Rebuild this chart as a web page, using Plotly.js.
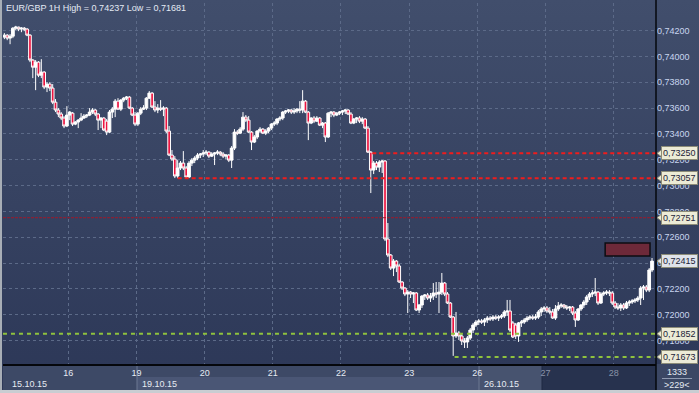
<!DOCTYPE html>
<html><head><meta charset="utf-8">
<script src="https://cdn.plot.ly/plotly-3.0.1.min.js"></script>
<style>
html,body{margin:0;padding:0;background:#2b3656;}
#chart{width:699px;height:393px;background:linear-gradient(to bottom,#414e6c 0%,#2c3757 100%);}
</style></head><body><div id="chart"></div>
<script>
// ---- data ----
const dayTickText = ['16','19','20','21','22','23','26','27','28'];
const dayBoundaries = [22.5,46.5,70.5,94.5,118.5,142.5,166.5,190.5,214.5];
const dateLabels = ['15.10.15','19.10.15','26.10.15'];
const dateLabelIdx = [1.8,47.8,168.0];

const open = [
0.74150,0.74165,0.74142,0.74157,0.74219,0.74227,0.74212,0.74219,0.74212,0.74165,
0.73972,0.73917,0.73956,0.73855,0.73879,0.73763,0.73786,0.73755,0.73646,0.73585,
0.73554,0.73523,0.73461,0.73546,0.73561,0.73476,0.73492,0.73507,0.73523,0.73538,
0.73546,0.73569,0.73585,0.73554,0.73507,0.73523,0.73499,0.73414,0.73569,0.73592,
0.73654,0.73592,0.73662,0.73677,0.73685,0.73600,0.73546,0.73476,0.73561,0.73592,
0.73600,0.73677,0.73716,0.73608,0.73585,0.73600,0.73592,0.73600,0.73422,0.73236,
0.73205,0.73074,0.73136,0.73174,0.73136,0.73066,0.73174,0.73197,0.73213,0.73236,
0.73244,0.73252,0.73259,0.73228,0.73244,0.73252,0.73259,0.73244,0.73228,0.73236,
0.73197,0.73290,0.73414,0.73406,0.73437,0.73530,0.73507,0.73414,0.73337,0.73376,
0.73422,0.73437,0.73406,0.73422,0.73445,0.73476,0.73484,0.73515,0.73523,0.73569,
0.73577,0.73585,0.73569,0.73577,0.73592,0.73585,0.73654,0.73569,0.73484,0.73523,
0.73499,0.73523,0.73468,0.73484,0.73376,0.73561,0.73569,0.73546,0.73561,0.73569,
0.73577,0.73585,0.73554,0.73484,0.73515,0.73523,0.73499,0.73515,0.73445,0.73259,
0.73120,0.73174,0.73143,0.73182,0.73190,0.72586,0.72462,0.72361,0.72415,0.72377,
0.72253,0.72206,0.72160,0.72175,0.72160,0.72168,0.72036,0.72075,0.72144,0.72152,
0.72129,0.72144,0.72168,0.72160,0.72175,0.72245,0.72160,0.72090,0.71982,0.71835,
0.71858,0.71835,0.71796,0.71789,0.71819,0.71881,0.71920,0.71943,0.71951,0.71943,
0.71959,0.71974,0.71967,0.71982,0.71974,0.71982,0.71990,0.72021,0.72028,0.71936,
0.71920,0.71835,0.71936,0.71943,0.71959,0.71974,0.71982,0.71974,0.71982,0.72021,
0.72044,0.72052,0.72028,0.72021,0.71974,0.72044,0.72067,0.72075,0.72059,0.72052,
0.72059,0.72013,0.71959,0.72044,0.72075,0.72098,0.72137,0.72160,0.72168,0.72175,
0.72090,0.72160,0.72168,0.72175,0.72168,0.72090,0.72059,0.72052,0.72075,0.72052,
0.72090,0.72098,0.72106,0.72114,0.72129,0.72206,0.72214,0.72191,0.72346];

const high = [
0.74181,0.74173,0.74173,0.74227,0.74237,0.74231,0.74227,0.74228,0.74219,0.74173,
0.73979,0.73972,0.73964,0.73979,0.73886,0.73801,0.73801,0.73786,0.73670,0.73600,
0.73569,0.73538,0.73615,0.73577,0.73569,0.73499,0.73515,0.73561,0.73554,0.73554,
0.73600,0.73600,0.73592,0.73561,0.73530,0.73530,0.73515,0.73585,0.73608,0.73670,
0.73677,0.73670,0.73685,0.73693,0.73693,0.73608,0.73569,0.73569,0.73608,0.73623,
0.73685,0.73732,0.73724,0.73654,0.73631,0.73662,0.73615,0.73608,0.73461,0.73275,
0.73228,0.73197,0.73190,0.73267,0.73151,0.73190,0.73213,0.73228,0.73252,0.73252,
0.73275,0.73275,0.73267,0.73259,0.73259,0.73275,0.73267,0.73259,0.73244,0.73244,
0.73306,0.73437,0.73430,0.73453,0.73569,0.73546,0.73538,0.73422,0.73391,0.73430,
0.73453,0.73445,0.73437,0.73453,0.73484,0.73499,0.73523,0.73538,0.73577,0.73585,
0.73592,0.73592,0.73600,0.73600,0.73654,0.73739,0.73662,0.73577,0.73530,0.73538,
0.73538,0.73530,0.73492,0.73492,0.73569,0.73577,0.73577,0.73569,0.73577,0.73585,
0.73592,0.73592,0.73569,0.73523,0.73530,0.73538,0.73530,0.73523,0.73461,0.73267,
0.73190,0.73190,0.73197,0.73197,0.73197,0.72710,0.72470,0.72431,0.72423,0.72392,
0.72261,0.72214,0.72191,0.72183,0.72175,0.72175,0.72083,0.72152,0.72160,0.72168,
0.72168,0.72245,0.72253,0.72253,0.72323,0.72253,0.72175,0.72098,0.71990,0.72021,
0.71874,0.71850,0.71819,0.71835,0.71897,0.71936,0.71959,0.71967,0.71967,0.71974,
0.71990,0.71990,0.71997,0.71997,0.71997,0.72005,0.72036,0.72114,0.72114,0.71951,
0.71936,0.71943,0.71959,0.71974,0.71990,0.71997,0.71997,0.72005,0.72036,0.72059,
0.72067,0.72067,0.72059,0.72044,0.72075,0.72098,0.72090,0.72083,0.72075,0.72067,
0.72067,0.72028,0.72052,0.72083,0.72114,0.72152,0.72175,0.72191,0.72284,0.72183,
0.72175,0.72183,0.72191,0.72191,0.72183,0.72106,0.72090,0.72090,0.72090,0.72106,
0.72114,0.72121,0.72129,0.72144,0.72222,0.72230,0.72230,0.72361,0.72439];

const low = [
0.74134,0.74126,0.74095,0.74142,0.74204,0.74196,0.74188,0.74196,0.74157,0.73956,
0.73832,0.73739,0.73840,0.73832,0.73747,0.73724,0.73732,0.73631,0.73569,0.73530,
0.73507,0.73445,0.73453,0.73507,0.73461,0.73468,0.73445,0.73499,0.73515,0.73523,
0.73538,0.73554,0.73538,0.73430,0.73445,0.73422,0.73391,0.73406,0.73523,0.73530,
0.73585,0.73577,0.73646,0.73662,0.73592,0.73538,0.73461,0.73461,0.73546,0.73585,
0.73585,0.73670,0.73600,0.73569,0.73561,0.73577,0.73538,0.73406,0.73228,0.73190,
0.73058,0.73057,0.73120,0.73120,0.73058,0.73058,0.73151,0.73174,0.73197,0.73213,
0.73221,0.73236,0.73213,0.73221,0.73159,0.73236,0.73228,0.73213,0.73205,0.73182,
0.73136,0.73275,0.73391,0.73399,0.73422,0.73492,0.73406,0.73275,0.73329,0.73360,
0.73406,0.73399,0.73391,0.73406,0.73430,0.73461,0.73468,0.73499,0.73507,0.73554,
0.73561,0.73554,0.73554,0.73561,0.73561,0.73561,0.73561,0.73352,0.73476,0.73484,
0.73492,0.73461,0.73445,0.73337,0.73368,0.73530,0.73530,0.73538,0.73546,0.73546,
0.73554,0.73546,0.73476,0.73476,0.73484,0.73484,0.73476,0.73437,0.73252,0.72942,
0.73089,0.73120,0.73105,0.73097,0.72570,0.72446,0.72346,0.72299,0.72330,0.72245,
0.72191,0.72144,0.72013,0.72129,0.72090,0.72028,0.72013,0.72052,0.72114,0.72114,
0.72098,0.72114,0.72129,0.72013,0.72152,0.72144,0.72083,0.71974,0.71681,0.71819,
0.71804,0.71765,0.71742,0.71742,0.71804,0.71858,0.71905,0.71920,0.71928,0.71912,
0.71936,0.71951,0.71951,0.71959,0.71951,0.71967,0.71974,0.71990,0.71866,0.71819,
0.71812,0.71789,0.71905,0.71928,0.71943,0.71959,0.71959,0.71959,0.71967,0.71990,
0.72021,0.72013,0.72005,0.71967,0.71959,0.72028,0.72052,0.72044,0.72036,0.72028,
0.71997,0.71905,0.71951,0.72028,0.72052,0.72075,0.72114,0.72137,0.72144,0.72075,
0.72083,0.72144,0.72152,0.72144,0.72075,0.72044,0.72036,0.72028,0.72036,0.72044,
0.72067,0.72083,0.72090,0.72098,0.72075,0.72114,0.72175,0.72175,0.72330];

const close = [
0.74165,0.74142,0.74157,0.74219,0.74227,0.74212,0.74219,0.74212,0.74165,0.73972,
0.73917,0.73956,0.73855,0.73879,0.73763,0.73786,0.73755,0.73646,0.73585,0.73554,
0.73523,0.73461,0.73546,0.73569,0.73476,0.73492,0.73507,0.73523,0.73538,0.73546,
0.73569,0.73585,0.73554,0.73507,0.73523,0.73430,0.73414,0.73569,0.73592,0.73654,
0.73592,0.73662,0.73677,0.73685,0.73600,0.73546,0.73476,0.73561,0.73592,0.73600,
0.73677,0.73716,0.73608,0.73585,0.73600,0.73592,0.73600,0.73422,0.73236,0.73205,
0.73074,0.73136,0.73174,0.73136,0.73066,0.73174,0.73197,0.73213,0.73236,0.73244,
0.73252,0.73259,0.73228,0.73244,0.73252,0.73259,0.73244,0.73228,0.73236,0.73197,
0.73290,0.73414,0.73406,0.73437,0.73530,0.73507,0.73414,0.73337,0.73376,0.73422,
0.73437,0.73406,0.73422,0.73445,0.73476,0.73484,0.73515,0.73523,0.73569,0.73577,
0.73585,0.73569,0.73577,0.73592,0.73585,0.73654,0.73569,0.73484,0.73523,0.73499,
0.73523,0.73468,0.73484,0.73376,0.73561,0.73569,0.73546,0.73561,0.73569,0.73577,
0.73585,0.73554,0.73484,0.73515,0.73523,0.73499,0.73515,0.73445,0.73259,0.73120,
0.73174,0.73143,0.73182,0.73190,0.72586,0.72462,0.72361,0.72415,0.72377,0.72253,
0.72206,0.72160,0.72175,0.72160,0.72168,0.72036,0.72075,0.72144,0.72152,0.72129,
0.72144,0.72168,0.72160,0.72175,0.72245,0.72160,0.72090,0.71982,0.71835,0.71858,
0.71835,0.71796,0.71789,0.71819,0.71881,0.71920,0.71943,0.71951,0.71943,0.71959,
0.71974,0.71967,0.71982,0.71974,0.71982,0.71990,0.72021,0.72028,0.71881,0.71827,
0.71835,0.71936,0.71943,0.71959,0.71974,0.71982,0.71974,0.71982,0.72021,0.72044,
0.72052,0.72028,0.72021,0.71974,0.72044,0.72067,0.72075,0.72059,0.72052,0.72059,
0.72013,0.71959,0.72044,0.72075,0.72098,0.72137,0.72160,0.72168,0.72175,0.72090,
0.72160,0.72168,0.72175,0.72168,0.72090,0.72059,0.72052,0.72075,0.72052,0.72090,
0.72098,0.72106,0.72114,0.72129,0.72206,0.72214,0.72191,0.72346,0.72415];

const yTicks = [0.718,0.720,0.722,0.724,0.726,0.728,0.730,0.732,0.734,0.736,0.738,0.740,0.742];
const levels = [0.73250,0.73057,0.72751,0.71852,0.71673];
const levelStart = [129.5,61,-0.5,-0.5,158.5];
const lastPrice = 0.72415;
const zoneX = [211.5,227.3];
const zoneY = [0.72455,0.72555];
const titleText = 'EUR/GBP 1H High = 0,74237 Low = 0,71681';
const barsTotal = '1333';
const barsVisible = '>229<';

// ---- chart ----
const idx = close.map((_, i) => i);
const xRange = [-0.49, 229.4];
const yRange = [0.71618, 0.74414];
const FONT = 'Liberation Sans, Arial, sans-serif';
const fmt = v => v.toFixed(5).replace('.', ',');

const trace = {
  type: 'candlestick', x: idx, open: open, high: high, low: low, close: close,
  increasing: {line: {color: '#ffffff', width: 1}, fillcolor: '#ffffff'},
  decreasing: {line: {color: '#ffffff', width: 1}, fillcolor: '#ec1440'},
  whiskerwidth: 0, hoverinfo: 'skip', showlegend: false
};

const levelStyles = [
  {color: '#f01c1c', width: 2, dash: '4px,3px'},
  {color: '#f01c1c', width: 2, dash: '4px,3px'},
  {color: '#9c1a2c', width: 1, dash: '3px,1px'},
  {color: '#8fc23e', width: 2, dash: '4px,4px'},
  {color: '#8fc23e', width: 2, dash: '4px,4px'}
];

const shapes = [];
const P = px => (px - 3) / 653;
const Q = py => (364 - py) / 361;
shapes.push({type:'rect', xref:'paper', yref:'paper', x0:0, x1:1, y0:Q(390), y1:0, fillcolor:'#3d4966', line:{width:0}, layer:'below'});
shapes.push({type:'rect', xref:'paper', yref:'paper', x0:P(137), x1:P(479), y0:Q(390), y1:Q(377), fillcolor:'#4a5675', line:{width:0}, layer:'below'});
shapes.push({type:'rect', xref:'paper', yref:'paper', x0:P(479), x1:P(542), y0:Q(390), y1:0, fillcolor:'#47536f', line:{width:0}, layer:'below'});
shapes.push({type:'rect', xref:'paper', yref:'paper', x0:P(542), x1:1, y0:Q(390), y1:0, fillcolor:'#27324e', line:{width:0}, layer:'below'});
shapes.push({type:'rect', xref:'paper', yref:'paper', x0:1, x1:P(699), y0:Q(390), y1:0, fillcolor:'#3b4764', line:{width:0}, layer:'below'});
shapes.push({type:'line', xref:'paper', yref:'paper', x0:P(137), x1:P(137), y0:Q(390), y1:0, line:{color:'#6c7893', width:1}, layer:'below'});
shapes.push({type:'line', xref:'paper', yref:'paper', x0:P(479), x1:P(479), y0:Q(390), y1:0, line:{color:'#6c7893', width:1}, layer:'below'});
shapes.push({type:'line', xref:'paper', yref:'paper', x0:P(542), x1:P(542), y0:Q(390), y1:0, line:{color:'#1e2842', width:1}, layer:'below'});
shapes.push({type:'line', xref:'paper', yref:'paper', x0:P(662), x1:P(692), y0:Q(378.5), y1:Q(378.5), line:{color:'#8f9ab0', width:1}, layer:'above'});
levels.forEach((lv, k) => {
  shapes.push({type:'line', xref:'x', yref:'y', x0:levelStart[k], x1:xRange[1], y0:lv, y1:lv, line:levelStyles[k], layer:'above'});
});
shapes.push({type:'rect', xref:'x', yref:'y', x0:zoneX[0], x1:zoneX[1], y0:zoneY[0], y1:zoneY[1], fillcolor:'#6d2939', line:{color:'#0d0d12', width:1.5}, layer:'above'});
shapes.push({type:'line', xref:'paper', yref:'paper', x0:1, x1:1, y0:Q(390), y1:Q(0), line:{color:'#05070c', width:1.5}, layer:'above'});
shapes.push({type:'rect', xref:'paper', yref:'paper', x0:P(0), x1:P(2), y0:Q(393), y1:Q(0), fillcolor:'#a8aeb6', line:{width:0}, layer:'above'});
shapes.push({type:'rect', xref:'paper', yref:'paper', x0:P(0), x1:P(699), y0:Q(393), y1:Q(390), fillcolor:'#c9cdd2', line:{width:0}, layer:'above'});

const annotations = [];
const tagPrices = levels.concat([lastPrice]);
tagPrices.forEach((lv, k) => {
  const isLast = k === tagPrices.length - 1;
  const bg = isLast ? '#dfe3ea' : '#ecebd6';
  annotations.push({xref:'paper', yref:'y', x:1, y:lv, xanchor:'left', yanchor:'middle', xshift:5,
    text: fmt(lv), showarrow:false, bgcolor:bg, bordercolor:'#8c8c78', borderwidth:1, borderpad:1,
    font:{family:FONT, size:9, color:'#1b2238'}});
  const h = 0.00030;
  shapes.push({type:'path', xref:'paper', yref:'y',
    path:`M ${P(657)} ${lv} L ${P(662)} ${lv + h} L ${P(662)} ${lv - h} Z`,
    fillcolor:bg, line:{color:'#8c8c78', width:1}, layer:'above'});
});
annotations.push({xref:'paper', yref:'paper', x:P(4), y:Q(8), xanchor:'left', yanchor:'middle', text:titleText,
  showarrow:false, font:{family:FONT, size:9, color:'#e4eaf4'}});
dateLabels.forEach((t, k) => {
  annotations.push({xref:'x', yref:'paper', x:dateLabelIdx[k], y:Q(384), xanchor:'left', yanchor:'middle', text:t,
    showarrow:false, font:{family:FONT, size:9, color:'#e6ebf3'}});
});
annotations.push({xref:'paper', yref:'paper', x:P(677), y:Q(372), xanchor:'center', yanchor:'middle', text:barsTotal,
  showarrow:false, font:{family:FONT, size:9, color:'#e6ebf3'}});
annotations.push({xref:'paper', yref:'paper', x:P(677), y:Q(385), xanchor:'center', yanchor:'middle', text:barsVisible,
  showarrow:false, font:{family:FONT, size:9, color:'#e6ebf3'}});

const tickText = dayTickText.map(t => (t === '27' || t === '28') ? `<span style="color:#8993a8">${t}</span>` : t);

const layout = {
  width: 699, height: 393,
  margin: {l: 3, r: 43, t: 3, b: 29, pad: 0},
  paper_bgcolor: 'rgba(0,0,0,0)', plot_bgcolor: 'rgba(0,0,0,0)',
  separators: ', ',
  boxgap: 0.05, boxgroupgap: 0,
  font: {family: FONT, size: 9, color: '#e6ebf3'},
  showlegend: false,
  xaxis: {range: xRange, type: 'linear', tickvals: dayBoundaries, ticktext: tickText,
    showgrid: true, gridcolor: '#5c6a88', griddash: 'dot', gridwidth: 1, zeroline: false,
    showline: true, linecolor: '#05070c', linewidth: 1.5, ticks: '',
    tickfont: {family: FONT, size: 9, color: '#e6ebf3'}, rangeslider: {visible: false}, fixedrange: true},
  yaxis: {range: yRange, side: 'right', tickvals: yTicks, tickformat: '.5f',
    showgrid: true, gridcolor: '#5c6a88', griddash: 'dot', gridwidth: 1, zeroline: false,
    showline: false, ticks: '', tickfont: {family: FONT, size: 9, color: '#c8d6ef'}, fixedrange: true},
  shapes: shapes, annotations: annotations
};

Plotly.newPlot('chart', [trace], layout, {displayModeBar: false, staticPlot: true});
</script>
</body></html>
